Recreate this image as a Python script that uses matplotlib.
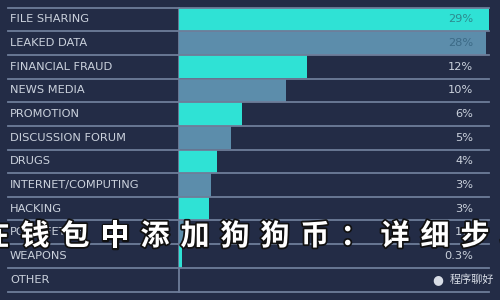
"""Dark-web content category shares as a horizontal bar table with watermark overlay."""

import matplotlib.pyplot as plt
import matplotlib.patheffects as pe
from matplotlib.transforms import blended_transform_factory

CATEGORIES = [
    "FILE SHARING",
    "LEAKED DATA",
    "FINANCIAL FRAUD",
    "NEWS MEDIA",
    "PROMOTION",
    "DISCUSSION FORUM",
    "DRUGS",
    "INTERNET/COMPUTING",
    "HACKING",
    "PORN/FETISH",
    "WEAPONS",
    "OTHER",
]
# bar lengths (percent)
VALUES = [29, 28.7, 12, 10, 5.9, 4.9, 3.6, 3.0, 2.8, 0.6, 0.3, 0]
VALUE_LABELS = ["29%", "28%", "12%", "10%", "6%", "5%", "4%", "3%", "3%", "1%", "0.3%", ""]

OVERLAY_TITLE = "在钱包中添加狗狗币：详细步骤"
WATERMARK = "程序聊好"

BG = "#232c46"
GRID = "#6e7d9a"
CYAN = "#2fe2d5"
STEEL = "#5c8dab"
TEXT = "#cbd2dd"

W, H = 500, 300
LEFT, RIGHT = 179, 489
TOP, BOTTOM = 7.5, 291.5

fig = plt.figure(figsize=(W / 100, H / 100), dpi=100, facecolor=BG)
ax = fig.add_axes(
    [LEFT / W, 1 - BOTTOM / H, (RIGHT - LEFT) / W, (BOTTOM - TOP) / H]
)
ax.set_facecolor(BG)
ax.set_xlim(0, max(VALUES))
ax.set_ylim(len(CATEGORIES), 0)
ax.axis("off")

rows = range(len(CATEGORIES))
colors = [CYAN if i % 2 == 0 else STEEL for i in rows]
ax.barh([i + 0.5 for i in rows], VALUES, height=1.0, color=colors, zorder=2)

trans = blended_transform_factory(fig.transFigure, ax.transData)

# row dividers and the vertical separator
for k in range(len(CATEGORIES) + 1):
    ax.plot([8 / W, RIGHT / W], [k, k], transform=trans, color=GRID,
            lw=1.3, clip_on=False, zorder=3)
ax.plot([LEFT / W, LEFT / W], [0, len(CATEGORIES)], transform=trans,
        color=GRID, lw=1.3, clip_on=False, zorder=1)

for i, (cat, val, lab) in enumerate(zip(CATEGORIES, VALUES, VALUE_LABELS)):
    ax.text(10 / W, i + 0.5, cat, transform=trans, ha="left", va="center",
            color=TEXT, fontsize=8.2, family="DejaVu Sans")
    if not lab:
        continue
    on_bar = val > 20
    if on_bar:
        col = "#2d8a8f" if i % 2 == 0 else "#3c6a86"
    else:
        col = TEXT
    ax.text(473 / W, i + 0.5, lab, transform=trans, ha="right", va="center",
            color=col, fontsize=8.2, family="DejaVu Sans", zorder=4)

# large calligraphy-like overlay title
for j, ch in enumerate(OVERLAY_TITLE):
    fig.text((-5 + 40 * j) / W, 1 - 236 / H, ch, ha="center", va="center",
             fontsize=21, fontweight="bold", color="white",
             family=["Noto Sans CJK SC", "DejaVu Sans"],
             path_effects=[pe.withStroke(linewidth=2.5, foreground="#111111")],
             zorder=10)

# small watermark bottom right
fig.text(438 / W, 1 - 280 / H, "●", ha="center", va="center", fontsize=9,
         color="#d8dde6", zorder=10)
fig.text(450 / W, 1 - 280 / H, WATERMARK, ha="left", va="center",
         fontsize=8, color="#d8dde6",
         family=["Noto Sans CJK SC", "DejaVu Sans"], zorder=10)

fig.savefig("out.png", dpi=100, facecolor=BG)
